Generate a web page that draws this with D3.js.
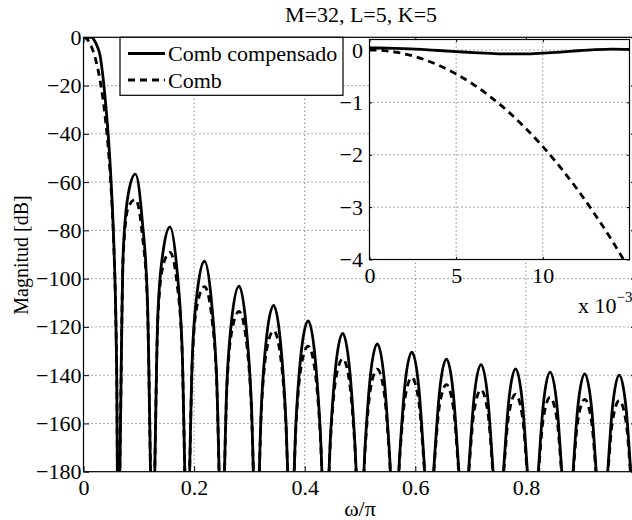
<!DOCTYPE html>
<html>
<head>
<meta charset="utf-8">
<script src="https://cdn.jsdelivr.net/npm/d3@7"></script>
<style>
	body { margin: 0; background: #fff; }
	svg { display: block; }
	svg text { font-family: "Liberation Serif", "Times New Roman", serif; }
</style>
</head>
<body>
<svg id="chart" width="632" height="520"></svg>
<script>
// normalized frequency (omega/pi) samples
const freq = [
	0, 0.005, 0.01, 0.015, 0.02, 0.025, 0.03, 0.035, 0.04, 0.045, 0.05, 0.055, 0.058, 0.06, 0.0625,
	0.0719, 0.0813, 0.0938, 0.1063, 0.1156, 0.125,
	0.1344, 0.1438, 0.1563, 0.1688, 0.1781, 0.1875,
	0.1969, 0.2063, 0.2188, 0.2313, 0.2406, 0.25,
	0.2594, 0.2688, 0.2813, 0.2938, 0.3031, 0.3125,
	0.3219, 0.3313, 0.3438, 0.3563, 0.3656, 0.375,
	0.3844, 0.3938, 0.4063, 0.4188, 0.4281, 0.4375,
	0.4469, 0.4563, 0.4688, 0.4813, 0.4906, 0.5,
	0.5094, 0.5188, 0.5313, 0.5438, 0.5531, 0.5625,
	0.5719, 0.5813, 0.5938, 0.6063, 0.6156, 0.625,
	0.6344, 0.6438, 0.6563, 0.6688, 0.6781, 0.6875,
	0.6969, 0.7063, 0.7188, 0.7313, 0.7406, 0.75,
	0.7594, 0.7688, 0.7813, 0.7938, 0.8031, 0.8125,
	0.8219, 0.8313, 0.8438, 0.8563, 0.8656, 0.875,
	0.8844, 0.8938, 0.9063, 0.9188, 0.9281, 0.9375,
	0.9469, 0.9563, 0.9688, 0.9813, 0.9906, 1.0
];

// Comb compensado [dB]
const combComp = [
	0.04, -0.03, -0.06, 0.01, -1.4, -3.8, -7.5, -16.0, -27.4, -41.4, -60.2, -86.5, -111, -138, -210,
	-88.4, -64.5, -56.7, -76.1, -108.9, -210,
	-115.3, -89.0, -78.6, -95.8, -127.3, -210,
	-131.5, -104.3, -92.8, -109.1, -139.9, -210,
	-143.0, -115.3, -103.1, -118.9, -149.3, -210,
	-151.7, -123.7, -111.1, -126.5, -156.7, -210,
	-158.6, -130.3, -117.5, -132.7, -162.7, -210,
	-164.2, -135.8, -122.7, -137.7, -167.5, -210,
	-168.8, -140.2, -127.0, -141.8, -171.5, -210,
	-172.6, -143.9, -130.5, -145.1, -174.8, -210,
	-175.6, -146.8, -133.4, -147.8, -177.4, -210,
	-178.1, -149.2, -135.6, -150.0, -179.5, -210,
	-180.0, -151.1, -137.4, -151.7, -181.1, -210,
	-181.5, -152.5, -138.7, -152.9, -182.2, -210,
	-182.5, -153.4, -139.5, -153.7, -182.9, -210,
	-183.1, -153.9, -140.0, -154.0, -183.2, -210
];

// Comb [dB]
const comb = [
	0, -0.46, -1.84, -4.19, -7.57, -12.1, -17.9, -25.3, -34.7, -46.7, -63.1, -87.5, -111.3, -138, -210,
	-90.0, -70.2, -67.2, -81.8, -110.5, -210,
	-116.9, -94.7, -89.1, -101.5, -128.9, -210,
	-133.1, -110.0, -103.3, -114.8, -141.5, -210,
	-144.6, -121.0, -113.6, -124.6, -150.9, -210,
	-153.3, -129.4, -121.6, -132.2, -158.3, -210,
	-160.2, -136.0, -128.0, -138.4, -164.3, -210,
	-165.8, -141.5, -133.2, -143.4, -169.1, -210,
	-170.4, -145.9, -137.5, -147.5, -173.1, -210,
	-174.2, -149.6, -141.0, -150.8, -176.4, -210,
	-177.2, -152.5, -143.9, -153.5, -179.0, -210,
	-179.7, -154.9, -146.1, -155.7, -181.1, -210,
	-181.6, -156.8, -147.9, -157.4, -182.7, -210,
	-183.1, -158.2, -149.2, -158.6, -183.8, -210,
	-184.1, -159.1, -150.0, -159.4, -184.5, -210,
	-184.7, -159.6, -150.5, -159.7, -184.8, -210
];

// zoomed passband (inset)
const insetFreq = [0, 0.001, 0.002, 0.003, 0.004, 0.005, 0.006, 0.007, 0.008, 0.009, 0.010, 0.011, 0.012, 0.013, 0.014, 0.015];
const insetComp = [0.04, 0.035, 0.025, 0.01, -0.01, -0.03, -0.05, -0.065, -0.075, -0.075, -0.06, -0.04, -0.015, 0.005, 0.015, 0.01];
const insetComb = [0, -0.018, -0.073, -0.165, -0.293, -0.458, -0.660, -0.900, -1.177, -1.492, -1.844, -2.236, -2.665, -3.135, -3.644, -4.193];

const xTicks = [0, 0.2, 0.4, 0.6, 0.8, 1];
const xTickLabels = ["0", "0.2", "0.4", "0.6", "0.8", ""]; // "1" falls outside the cropped figure
const yTicks = [0, -20, -40, -60, -80, -100, -120, -140, -160, -180];
const yTickLabels = ["0", "\u221220", "\u221240", "\u221260", "\u221280", "\u2212100", "\u2212120", "\u2212140", "\u2212160", "\u2212180"];
const insetXTicks = [0, 0.005, 0.01];
const insetXTickLabels = ["0", "5", "10"];
const insetYTicks = [0, -1, -2, -3, -4];
const insetYTickLabels = ["0", "\u22121", "\u22122", "\u22123", "\u22124"];
const seriesNames = ["Comb compensado", "Comb"];

const svg = d3.select("#chart");
const FS = 22;

const x = d3.scaleLinear().domain([0, 1]).range([83.5, 636.5]);
const y = d3.scaleLinear().domain([-180, 0]).range([471.7, 37.3]);

const x0 = x.range()[0], x1 = x.range()[1];
const yb = y.range()[0], yt = y.range()[1];

svg.append("defs").append("clipPath").attr("id", "mainClip")
	.append("rect").attr("x", x0).attr("y", yt).attr("width", x1 - x0).attr("height", yb - yt);

// grid
const grid = svg.append("g").attr("stroke", "#555").attr("stroke-width", 1).attr("stroke-dasharray", "1,3");
grid.selectAll("line.v").data(xTicks.slice(1, -1)).enter().append("line")
	.attr("x1", d => x(d)).attr("x2", d => x(d)).attr("y1", yb).attr("y2", yt);
grid.selectAll("line.h").data(yTicks.slice(1, -1)).enter().append("line")
	.attr("y1", d => y(d)).attr("y2", d => y(d)).attr("x1", x0).attr("x2", x1);

// curves
const line = d3.line()
	.x((d, i) => x(freq[i]))
	.y(d => y(d))
	.curve(d3.curveMonotoneX);

const plot = svg.append("g").attr("clip-path", "url(#mainClip)");
plot.append("path").datum(comb)
	.attr("d", line).attr("fill", "none").attr("stroke", "#000")
	.attr("stroke-width", 2.8).attr("stroke-dasharray", "7,5");
plot.append("path").datum(combComp)
	.attr("d", line).attr("fill", "none").attr("stroke", "#000")
	.attr("stroke-width", 2.8);

// axes, inward ticks
const tick = 5.5;
const styleAxis = g => {
	g.attr("font-family", null).attr("font-size", null);
	g.select(".domain").remove();
	g.selectAll("text")
		.style("font-family", "'Liberation Serif', 'Times New Roman', serif")
		.style("font-size", FS + "px")
		.attr("fill", "#000");
	g.selectAll("line").attr("stroke", "#000");
};

svg.append("g").attr("transform", `translate(0,${yb})`)
	.call(d3.axisBottom(x).tickValues(xTicks).tickFormat((d, i) => xTickLabels[i]).tickSize(-tick).tickPadding(7.6))
	.call(styleAxis);
svg.append("g").attr("transform", `translate(0,${yt})`)
	.call(d3.axisTop(x).tickValues(xTicks).tickFormat("").tickSize(-tick))
	.call(styleAxis);
svg.append("g").attr("transform", `translate(${x0},0)`)
	.call(d3.axisLeft(y).tickValues(yTicks).tickFormat((d, i) => yTickLabels[i]).tickSize(-tick).tickPadding(2))
	.call(styleAxis);
svg.append("g").attr("transform", `translate(${x1},0)`)
	.call(d3.axisRight(y).tickValues(yTicks).tickFormat("").tickSize(-tick))
	.call(styleAxis);

svg.append("rect").attr("x", x0).attr("y", yt).attr("width", x1 - x0).attr("height", yb - yt)
	.attr("fill", "none").attr("stroke", "#000").attr("stroke-width", 1.2);

// legend
const leg = svg.append("g");
leg.append("rect").attr("x", 120).attr("y", yt).attr("width", 223).attr("height", 58)
	.attr("fill", "#fff").attr("stroke", "#000").attr("stroke-width", 1.2);
seriesNames.forEach((name, i) => {
	const ly = 53.5 + i * 26.5;
	leg.append("line").attr("x1", 128).attr("x2", 165).attr("y1", ly).attr("y2", ly)
		.attr("stroke", "#000").attr("stroke-width", 2.8)
		.attr("stroke-dasharray", i === 1 ? "7,5" : null);
	leg.append("text").attr("x", 168).attr("y", ly).attr("dy", "0.35em")
		.attr("font-size", FS).text(name);
});

// inset
const xi = d3.scaleLinear().domain([0, 0.015]).range([369.5, 629.5]);
const yi = d3.scaleLinear().domain([-4, 0.2]).range([259.5, 39.5]);
const ix0 = xi.range()[0], ix1 = xi.range()[1];
const iyb = yi.range()[0], iyt = yi.range()[1];

const inset = svg.append("g");
inset.append("rect").attr("x", ix0).attr("y", iyt).attr("width", ix1 - ix0).attr("height", iyb - iyt).attr("fill", "#fff");
svg.select("defs").append("clipPath").attr("id", "insetClip")
	.append("rect").attr("x", ix0).attr("y", iyt).attr("width", ix1 - ix0).attr("height", iyb - iyt);

const igrid = inset.append("g").attr("stroke", "#555").attr("stroke-width", 1).attr("stroke-dasharray", "1,3");
igrid.selectAll("line.v").data(insetXTicks.slice(1)).enter().append("line")
	.attr("x1", d => xi(d)).attr("x2", d => xi(d)).attr("y1", iyb).attr("y2", iyt);
igrid.selectAll("line.h").data(insetYTicks.slice(0, -1)).enter().append("line")
	.attr("y1", d => yi(d)).attr("y2", d => yi(d)).attr("x1", ix0).attr("x2", ix1);

const iline = d3.line()
	.x((d, i) => xi(insetFreq[i]))
	.y(d => yi(d))
	.curve(d3.curveMonotoneX);
const iplot = inset.append("g").attr("clip-path", "url(#insetClip)");
iplot.append("path").datum(insetComb)
	.attr("d", iline).attr("fill", "none").attr("stroke", "#000")
	.attr("stroke-width", 2.8).attr("stroke-dasharray", "7,5");
iplot.append("path").datum(insetComp)
	.attr("d", iline).attr("fill", "none").attr("stroke", "#000")
	.attr("stroke-width", 2.8);

const itick = 2.6;
inset.append("g").attr("transform", `translate(0,${iyb})`)
	.call(d3.axisBottom(xi).tickValues(insetXTicks).tickFormat((d, i) => insetXTickLabels[i]).tickSize(-itick).tickPadding(8.2))
	.call(styleAxis);
inset.append("g").attr("transform", `translate(0,${iyt})`)
	.call(d3.axisTop(xi).tickValues(insetXTicks).tickFormat("").tickSize(-itick))
	.call(styleAxis);
inset.append("g").attr("transform", `translate(${ix0},0)`)
	.call(d3.axisLeft(yi).tickValues(insetYTicks).tickFormat((d, i) => insetYTickLabels[i]).tickSize(-itick).tickPadding(6.5))
	.call(styleAxis);
inset.append("g").attr("transform", `translate(${ix1},0)`)
	.call(d3.axisRight(yi).tickValues(insetYTicks).tickFormat("").tickSize(-itick))
	.call(styleAxis);
inset.append("rect").attr("x", ix0).attr("y", iyt).attr("width", ix1 - ix0).attr("height", iyb - iyt)
	.attr("fill", "none").attr("stroke", "#000").attr("stroke-width", 1.2);

const expo = inset.append("text").attr("x", 578).attr("y", 313).attr("font-size", FS);
expo.append("tspan").text("x 10");
expo.append("tspan").attr("font-size", 15).attr("dy", -11).text("\u22123");

// titles
svg.append("text").attr("x", 361).attr("y", 22).attr("text-anchor", "middle")
	.attr("font-size", FS).text("M=32, L=5, K=5");
svg.append("text").attr("x", 360).attr("y", 516).attr("text-anchor", "middle")
	.attr("font-size", FS).text("\u03c9/\u03c0");
svg.append("text").attr("transform", "translate(28,255) rotate(-90)").attr("text-anchor", "middle")
	.attr("font-size", 20).text("Magnitud [dB]");
</script>
</body>
</html>
